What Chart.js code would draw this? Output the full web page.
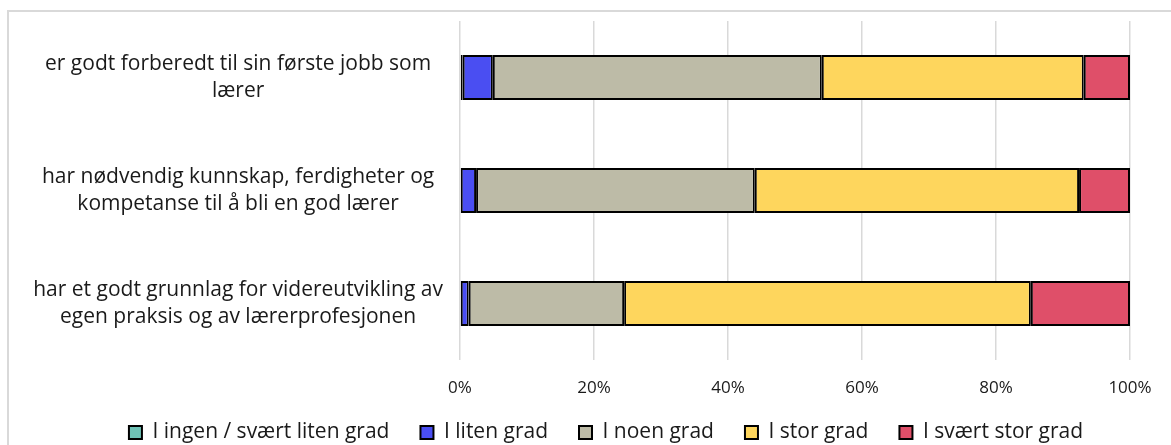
<!DOCTYPE html>
<html>
<head>
<meta charset="utf-8">
<script src="https://cdn.jsdelivr.net/npm/chart.js@4/dist/chart.umd.min.js"></script>
<style>
  html, body { margin: 0; padding: 0; background: #fff; }
  #wrap { position: relative; width: 1171px; height: 445px; }
  #frame {
    position: absolute; left: 7px; top: 10px; right: 0; bottom: 0;
    border-left: 2px solid #d9d9d9; border-top: 2px solid #d9d9d9;
  }
  #chart { position: absolute; left: 0; top: 0; }
</style>
</head>
<body>
<div id="wrap">
  <div id="frame"></div>
  <canvas id="chart" width="1171" height="445"></canvas>
</div>
<script>
var categories = [
  ['er godt forberedt til sin første jobb som', 'lærer'],
  ['har nødvendig kunnskap, ferdigheter og', 'kompetanse til å bli en god lærer'],
  ['har et godt grunnlag for videreutvikling av', 'egen praksis og av lærerprofesjonen']
];

var seriesNames = [
  'I ingen / svært liten grad',
  'I liten grad',
  'I noen grad',
  'I stor grad',
  'I svært stor grad'
];

// percent shares per category
var ingenGrad = [0.4, 0, 0];
var litenGrad = [4.5, 2.4, 1.3];
var noenGrad = [49.1, 41.6, 23.2];
var storGrad = [39.1, 48.4, 60.7];
var sværtStorGrad = [6.9, 7.6, 14.8];

var xTicks = [0, 20, 40, 60, 80, 100];

var colors = ['#6fc3b7', '#4a4ef2', '#bdbba7', '#fed65d', '#df4f69'];
var seriesData = [ingenGrad, litenGrad, noenGrad, storGrad, sværtStorGrad];

var FONT = '"Open Sans", sans-serif';

var datasets = seriesData.map(function (values, i) {
  return {
    label: seriesNames[i],
    data: values,
    backgroundColor: colors[i],
    borderColor: '#000',
    borderWidth: 2,
    borderSkipped: false,
    barPercentage: 0.4,
    categoryPercentage: 1
  };
});

// legend: fixed box height for the layout, then widen/raise its box so the
// row sits under the tick labels and a bit right of centre, like the original
var legendPlace = {
  id: 'legendPlace',
  beforeLayout: function (chart) {
    var lg = chart.legend;
    if (lg && !lg._fixedFit) {
      var fit = lg.fit;
      lg.fit = function () {
        fit.call(this);
        this.height = 40;
      };
      lg._fixedFit = true;
    }
  },
  afterLayout: function (chart) {
    var lg = chart.legend;
    if (lg) {
      lg.top -= 14;
      lg.left = 41;
      lg.right = chart.width;
    }
  }
};

new Chart(document.getElementById('chart'), {
  type: 'bar',
  data: { labels: categories, datasets: datasets },
  plugins: [legendPlace],
  options: {
    indexAxis: 'y',
    responsive: false,
    animation: false,
    layout: { padding: { left: 0, right: 41, top: 21, bottom: 0 } },
    plugins: {
      tooltip: { enabled: false },
      legend: {
        position: 'bottom',
        labels: {
          boxWidth: 13,
          boxHeight: 13,
          padding: 31,
          color: '#1a1a1a',
          font: { family: FONT, size: 21 }
        }
      }
    },
    scales: {
      x: {
        stacked: true,
        min: 0,
        max: 100,
        afterBuildTicks: function (scale) {
          scale.ticks = xTicks.map(function (v) { return { value: v }; });
        },
        afterFit: function (scale) {
          scale.height = 45;
          scale.paddingLeft = 0;
          scale.paddingRight = 0;
        },
        grid: { color: '#d9d9d9', lineWidth: 1.5, drawTicks: false },
        border: { display: false },
        ticks: {
          padding: 18,
          color: '#1a1a1a',
          font: { family: FONT, size: 17 },
          callback: function (v) { return v + '%'; }
        }
      },
      y: {
        stacked: true,
        afterFit: function (scale) {
          scale.width = 460;
          scale.paddingTop = 0;
          scale.paddingBottom = 0;
        },
        grid: { display: false },
        border: { display: false },
        ticks: {
          crossAlign: 'center',
          padding: 9,
          color: '#1a1a1a',
          font: { family: FONT, size: 21, lineHeight: 1.286 }
        }
      }
    }
  }
});
</script>
</body>
</html>
